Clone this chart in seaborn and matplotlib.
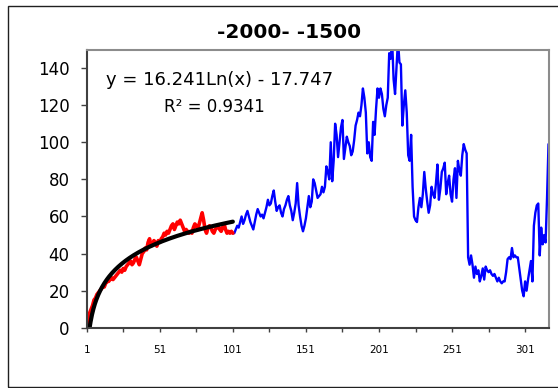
import numpy as np
import pandas as pd
import matplotlib
matplotlib.use("Agg")
import matplotlib.pyplot as plt
from matplotlib.patches import Rectangle
import seaborn as sns

# Annual series: first 101 points are the fitted stretch, the rest follow on
fit_values = [
    0, 4, 8, 10, 12, 15, 16, 18, 19, 20,
    21, 22, 22, 24, 25, 25, 26, 27, 26, 27,
    28, 29, 30, 31, 30, 32, 31, 33, 34, 35,
    36, 34, 35, 37, 38, 36, 34, 37, 40, 41,
    43, 42, 46, 48, 44, 45, 47, 46, 44, 47,
    46, 48, 49, 51, 50, 52, 51, 53, 55, 56,
    53, 55, 57, 56, 58, 56, 54, 52, 53, 52,
    51, 52, 51, 54, 56, 55, 53, 56, 59, 62,
    58, 53, 51, 54, 55, 54, 52, 51, 53, 54,
    55, 53, 52, 54, 56, 53, 51, 52, 51, 52,
    51,
]
later_values = [
    51, 53, 55, 54, 57, 60, 56, 58, 61, 63,
    60, 57, 55, 53, 57, 61, 64, 62, 60, 61,
    59, 62, 65, 69, 66, 67, 71, 74, 68, 63,
    65, 66, 62, 60, 64, 66, 69, 71, 66, 63,
    58, 62, 67, 78, 66, 60, 55, 52, 55, 59,
    65, 71, 65, 68, 80, 78, 74, 70, 71, 72,
    76, 73, 76, 87, 84, 80, 100, 79, 90, 110,
    104, 92, 100, 108, 112, 91, 97, 103, 100, 98,
    93, 95, 101, 109, 112, 116, 114, 120, 129, 124,
    116, 94, 100, 92, 90, 111, 104, 118, 129, 124,
    129, 126, 118, 114, 120, 124, 148, 145, 155, 134,
    126, 140, 155, 143, 142, 109, 120, 128, 116, 93,
    90, 104, 76, 60, 58, 57, 65, 70, 65, 72,
    84, 75, 68, 62, 66, 76, 72, 70, 78, 88,
    69, 75, 84, 86, 89, 72, 78, 82, 72, 68,
    80, 86, 70, 90, 85, 82, 93, 99, 96, 94,
    38, 34, 39, 34, 27, 33, 29, 31, 25, 28,
    32, 26, 33, 31, 30, 31, 29, 28, 29, 27,
    25, 27, 25, 24, 25, 25, 30, 37, 38, 37,
    43, 38, 39, 38, 38, 32, 26, 20, 17, 25,
    20, 26, 31, 36, 25, 55, 62, 66, 67, 39,
    54, 45, 50, 46, 70, 99,
]

# Logarithmic trendline coefficients
fit_slope = 16.241
fit_intercept = -17.747
r_squared = 0.9341

title_text = "-2000- -1500"
y_ticks = [0, 20, 40, 60, 80, 100, 120, 140]
x_tick_labels = ["1", "51", "101", "151", "201", "251", "301"]

values = fit_values + later_values
n_total = len(values)
n_fit = len(fit_values)
idx = np.arange(1, n_total + 1)

df_fit = pd.DataFrame({"x": idx[:n_fit], "y": fit_values})
df_rest = pd.DataFrame({"x": idx[n_fit - 1:], "y": values[n_fit - 1:]})

x0 = np.exp(-fit_intercept / fit_slope)
trend_x = np.linspace(x0, n_fit, 300)
trend_df = pd.DataFrame({"x": trend_x, "y": fit_slope * np.log(trend_x) + fit_intercept})

sns.set_style("white")
plt.rcParams["font.family"] = ["DejaVu Sans"]
plt.rcParams["text.color"] = "black"
plt.rcParams["xtick.labelcolor"] = "black"
plt.rcParams["ytick.labelcolor"] = "black"

W, H = 558, 388
fig = plt.figure(figsize=(W / 100, H / 100), dpi=100)
left_px, right_px, top_px, bottom_px = 86.7, 548.5, 49.5, 327.8
ax = fig.add_axes([left_px / W, 1 - bottom_px / H,
                   (right_px - left_px) / W, (bottom_px - top_px) / H])

sns.lineplot(data=df_rest, x="x", y="y", ax=ax, color="#0000ff", lw=1.7)
sns.lineplot(data=df_fit, x="x", y="y", ax=ax, color="#ff0000", lw=2.6)
sns.lineplot(data=trend_df, x="x", y="y", ax=ax, color="#000000", lw=3.0)

ax.set_xlim(1, n_total)
ax.set_ylim(0, 150)
ax.set_xlabel("")
ax.set_ylabel("")

ax.set_yticks(y_ticks)
ax.set_yticklabels([str(v) for v in y_ticks], fontsize=12, color="black")
major_x = list(range(1, n_total + 1, 25))
ax.set_xticks(major_x)
ax.set_xticklabels([str(v) if str(v) in x_tick_labels else "" for v in major_x],
                   fontsize=7.5, color="black")

ax.tick_params(axis="y", direction="out", length=4.3, width=1.0, color="#404040", pad=8.0, left=True)
ax.tick_params(axis="x", direction="out", length=3.0, width=1.0, color="#404040", pad=9.5, bottom=True)

for side in ("left", "bottom"):
    ax.spines[side].set_color("#404040")
    ax.spines[side].set_linewidth(1.5)
for side in ("top", "right"):
    ax.spines[side].set_color("#8c8c8c")
    ax.spines[side].set_linewidth(1.5)

fig.text(289.5 / W, 1 - 33 / H, title_text, ha="center", va="center",
         fontsize=14.5, fontweight="bold", color="black")
fig.text(219.5 / W, 1 - 80 / H,
         f"y = {fit_slope}Ln(x) - {abs(fit_intercept)}",
         ha="center", va="center", fontsize=13, color="black")
fig.text(214.5 / W, 1 - 107.5 / H, f"R² = {r_squared}",
         ha="center", va="center", fontsize=12, color="black")

# Chart-area border
fig.patches.append(Rectangle((8 / W, 1 - 387 / H), 1.0, (387 - 6) / H,
                             transform=fig.transFigure, fill=False,
                             edgecolor="#202020", lw=1.0))

fig.savefig("out.png", dpi=100)
